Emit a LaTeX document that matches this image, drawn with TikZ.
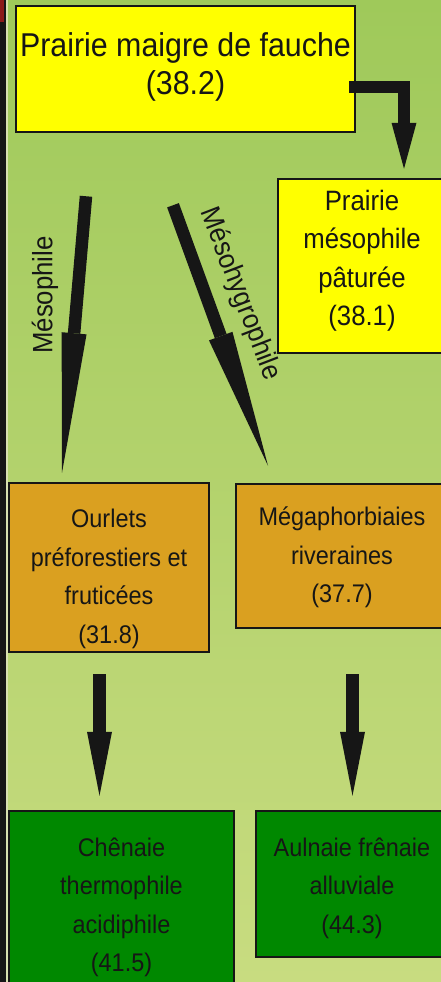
\documentclass[tikz,border=0pt]{standalone}
\usepackage{fontspec}
\setmainfont{Liberation Sans}[FakeStretch=0.92]
\usepackage{tikz}
\usetikzlibrary{arrows.meta, positioning, calc}

\definecolor{bgtop}{HTML}{9FC95A}
\definecolor{bgbot}{HTML}{C8DC80}
\definecolor{ink}{HTML}{161616}
\definecolor{prairie}{HTML}{FFFF00}
\definecolor{ourlet}{HTML}{DAA020}
\definecolor{foret}{HTML}{008800}
\definecolor{liseret}{HTML}{D8E0B0}
\definecolor{redtop}{HTML}{8B1A1A}

\begin{document}
\begin{tikzpicture}[
    x=1pt, y=-1pt,
    box/.style={draw=ink, line width=2.5pt, align=center, text=ink, inner sep=0pt},
    big/.style={font=\fontsize{33}{38}\selectfont},
    mid/.style={font=\fontsize{28}{38.5}\selectfont},
    small/.style={font=\fontsize{25.5}{38.5}\selectfont},
    flow/.style={draw=ink, line width=12.5pt, -{Triangle[length=#1, width=25pt, line width=0pt]}},
    flow/.default=46pt,
    lbl/.style={text=ink, font=\fontsize{28}{30}\selectfont, inner sep=0pt}
]
    \useasboundingbox (0,0) rectangle (441,982);
    \clip (0,0) rectangle (441,982);

    % Background
    \fill[top color=bgtop, bottom color=bgbot] (8,0) rectangle (441,982);
    \fill[ink] (0,0) rectangle (6,982);
    \fill[liseret] (6,0) rectangle (8,982);
    \fill[redtop] (0,0) rectangle (4,22);

    % Prairies
    \node[box, fill=prairie, big, minimum width=339pt, minimum height=126pt] (b1) at (185.5,69) {Prairie maigre de fauche\\(38.2)\rule[-10pt]{0pt}{10pt}};
    \node[box, fill=prairie, mid, minimum width=168pt, minimum height=174pt] (b2) at (362,266) {Prairie\\mésophile\\pâturée\\(38.1)\rule[-16pt]{0pt}{16pt}};

    % Ourlets / megaphorbiaies
    \node[box, fill=ourlet, small, minimum width=200pt, minimum height=169pt] (b3) at (109,567.5) {\rule{0pt}{41pt}Ourlets\\préforestiers et\\fruticées\\(31.8)};
    \node[box, fill=ourlet, small, minimum width=212pt, minimum height=144pt] (b4) at (342,556) {\rule{0pt}{22pt}Mégaphorbiaies\\riveraines\\(37.7)};

    % Forets
    \node[box, fill=foret, small, minimum width=225pt, minimum height=189pt] (b5) at (121.5,905.5) {\rule{0pt}{22pt}Chênaie\\thermophile\\acidiphile\\(41.5)};
    \node[box, fill=foret, small, minimum width=192pt, minimum height=146pt] (b6) at (352,884) {\rule{0pt}{27pt}Aulnaie frênaie\\alluviale\\(44.3)};

    % Arrows
    \draw[flow] ($(b1.east)+(-7,18)$) -| ($(b2.north)+(42,-9)$);
    \draw[flow=140pt] ($(b1.south)+(-99.5,63)$) -- ($(b3.north)+(-47,-9)$);
    \draw[flow=138pt] ($(b1.south)+(-12.5,72)$) -- ($(b4.north)+(-74,-17)$);
    \draw[flow=64pt] ($(b3.south)+(-9.5,21)$) -- ($(b5.north)+(-22,-14)$);
    \draw[flow=64pt] ($(b4.south)+(10.5,45)$) -- ($(b6.north)+(0.5,-14)$);

    % Labels
    \node[lbl, rotate=90] (lmeso) at (45,295) {Mésophile};
    \node[lbl, rotate=-69] (lhygro) at (240,294) {Mésohygrophile};
\end{tikzpicture}
\end{document}
